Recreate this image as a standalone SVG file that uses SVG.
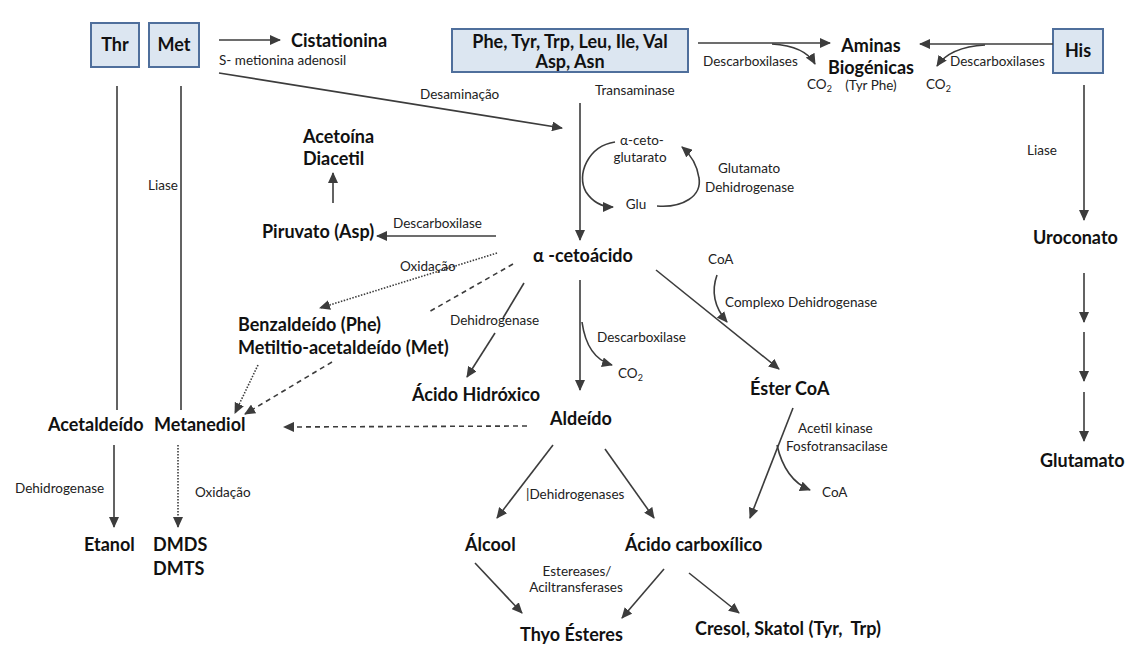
<svg xmlns="http://www.w3.org/2000/svg" width="1128" height="662" viewBox="0 0 1128 662">
  <style>
    .b { font-family: Lato, "Liberation Sans", sans-serif; font-weight: bold; font-size: 18px; fill: #111; }
    .s { font-family: Lato, "Liberation Sans", sans-serif; font-size: 13.5px; fill: #222; }
    .box { fill: #dce6f1; stroke: #4f6f9c; stroke-width: 2; }
    .ln { fill: none; stroke: #3c3c3c; stroke-width: 1.6; }
    .dot { stroke-dasharray: 1.5 1.5; }
    .dash { stroke-dasharray: 5 4; }
  </style>
  <defs>
    <marker id="ah" markerUnits="userSpaceOnUse" markerWidth="12" markerHeight="10" refX="10" refY="5" orient="auto">
      <path d="M0,0 L11,5 L0,10 Z" fill="#3c3c3c"/>
    </marker>
  </defs>
  <rect width="1128" height="662" fill="#ffffff"/>

  <!-- amino acid sources -->
  <g id="thr"><rect class="box" x="91" y="23" width="48" height="44"/><text class="b" x="115" y="51" text-anchor="middle">Thr</text></g>
  <g id="met"><rect class="box" x="149" y="23" width="50" height="44"/><text class="b" x="174" y="51" text-anchor="middle">Met</text></g>
  <g id="aa"><rect class="box" x="452" y="29" width="236" height="43"/>
    <text class="b" x="570" y="48" text-anchor="middle">Phe, Tyr, Trp, Leu, Ile, Val</text>
    <text class="b" x="570" y="68" text-anchor="middle">Asp, Asn</text></g>
  <g id="his"><rect class="box" x="1053" y="29" width="50" height="44"/><text class="b" x="1078" y="57" text-anchor="middle">His</text></g>

  <!-- products -->
  <g id="cistationina"><text class="b" x="291" y="47">Cistationina</text></g>
  <g id="aminas"><text class="b" x="871" y="52" text-anchor="middle">Aminas</text><text class="b" x="871" y="74" text-anchor="middle">Biogénicas</text><text class="s" x="871" y="90" text-anchor="middle">(Tyr Phe)</text></g>
  <g id="acetoina"><text class="b" x="303" y="143">Acetoína</text><text class="b" x="303" y="165">Diacetil</text></g>
  <g id="piruvato"><text class="b" x="262" y="238">Piruvato (Asp)</text></g>
  <g id="cetoacido"><text class="b" x="533" y="262">α -cetoácido</text></g>
  <g id="ciclo"><text class="s" x="642" y="145" text-anchor="middle">α-ceto-</text><text class="s" x="640" y="162" text-anchor="middle">glutarato</text><text class="s" x="636" y="209" text-anchor="middle">Glu</text></g>
  <g id="benzaldeido"><text class="b" x="238" y="331">Benzaldeído (Phe)</text><text class="b" x="238" y="354">Metiltio-acetaldeído (Met)</text></g>
  <g id="hidroxico"><text class="b" x="412" y="401">Ácido Hidróxico</text></g>
  <g id="acetaldeido"><text class="b" x="48" y="431">Acetaldeído</text></g>
  <g id="metanediol"><text class="b" x="154" y="431">Metanediol</text></g>
  <g id="aldeido"><text class="b" x="550" y="425">Aldeído</text></g>
  <g id="estercoa"><text class="b" x="750" y="395">Éster CoA</text></g>
  <g id="etanol"><text class="b" x="84" y="551">Etanol</text></g>
  <g id="dmds"><text class="b" x="153" y="551">DMDS</text><text class="b" x="153" y="575">DMTS</text></g>
  <g id="alcool"><text class="b" x="465" y="551">Álcool</text></g>
  <g id="carboxilico"><text class="b" x="625" y="551">Ácido carboxílico</text></g>
  <g id="thyo"><text class="b" x="520" y="641">Thyo Ésteres</text></g>
  <g id="cresol"><text class="b" x="695" y="635">Cresol, Skatol (Tyr,&#160; Trp)</text></g>
  <g id="uroconato"><text class="b" x="1033" y="244">Uroconato</text></g>
  <g id="glutamato"><text class="b" x="1040" y="467">Glutamato</text></g>

  <!-- connectors -->
  <g id="connectors">
    <line class="ln" x1="219" y1="40" x2="280" y2="40" marker-end="url(#ah)"/>
    <line class="ln" x1="219" y1="73" x2="562" y2="128" marker-end="url(#ah)"/>
    <line class="ln" x1="117" y1="86" x2="117" y2="410"/>
    <line class="ln" x1="181" y1="86" x2="181" y2="410"/>
    <line class="ln" x1="698" y1="43" x2="830" y2="43" marker-end="url(#ah)"/>
    <path class="ln" d="M772,44 Q805,46 815,64" marker-end="url(#ah)"/>
    <line class="ln" x1="1053" y1="44" x2="920" y2="44" marker-end="url(#ah)"/>
    <path class="ln" d="M985,45 Q950,47 937,66" marker-end="url(#ah)"/>
    <line class="ln" x1="1084" y1="85" x2="1084" y2="220" marker-end="url(#ah)"/>
    <line class="ln" x1="1084" y1="273" x2="1084" y2="322" marker-end="url(#ah)"/>
    <line class="ln" x1="1084" y1="332" x2="1084" y2="381" marker-end="url(#ah)"/>
    <line class="ln" x1="1084" y1="392" x2="1084" y2="441" marker-end="url(#ah)"/>
    <line class="ln" x1="580" y1="103" x2="580" y2="240" marker-end="url(#ah)"/>
    <path class="ln" d="M615,142 C588,146 576,175 586,192 C594,204 603,207 613,207" marker-end="url(#ah)"/>
    <path class="ln" d="M657,206 C683,208 702,196 699,178 C697,164 690,154 682,147" marker-end="url(#ah)"/>
    <line class="ln" x1="333" y1="203" x2="333" y2="173" marker-end="url(#ah)"/>
    <line class="ln" x1="496" y1="236" x2="377" y2="236" marker-end="url(#ah)"/>
    <line class="ln dot" x1="497" y1="253" x2="320" y2="308" marker-end="url(#ah)"/>
    <line class="ln dash" x1="513" y1="264" x2="427" y2="313"/>
    <line class="ln" x1="524" y1="283" x2="503" y2="318"/>
    <line class="ln" x1="495" y1="333" x2="467" y2="377" marker-end="url(#ah)"/>
    <line class="ln" x1="580" y1="280" x2="580" y2="390" marker-end="url(#ah)"/>
    <path class="ln" d="M582,322 Q587,358 612,365" marker-end="url(#ah)"/>
    <line class="ln" x1="656" y1="270" x2="779" y2="369" marker-end="url(#ah)"/>
    <path class="ln" d="M717,275 Q708,300 727,322" marker-end="url(#ah)"/>
    <line class="ln dot" x1="258" y1="365" x2="235" y2="413" marker-end="url(#ah)"/>
    <line class="ln dash" x1="332" y1="362" x2="245" y2="414" marker-end="url(#ah)"/>
    <line class="ln dash" x1="527" y1="426" x2="284" y2="427" marker-end="url(#ah)"/>
    <line class="ln" x1="114" y1="445" x2="114" y2="527" marker-end="url(#ah)"/>
    <line class="ln dot" x1="178" y1="445" x2="178" y2="527" marker-end="url(#ah)"/>
    <line class="ln" x1="553" y1="445" x2="497" y2="518" marker-end="url(#ah)"/>
    <line class="ln" x1="605" y1="449" x2="654" y2="518" marker-end="url(#ah)"/>
    <line class="ln" x1="793" y1="408" x2="750" y2="518" marker-end="url(#ah)"/>
    <path class="ln" d="M777,445 Q785,480 810,490" marker-end="url(#ah)"/>
    <line class="ln" x1="475" y1="563" x2="522" y2="613" marker-end="url(#ah)"/>
    <line class="ln" x1="664" y1="569" x2="622" y2="618" marker-end="url(#ah)"/>
    <line class="ln" x1="689" y1="573" x2="739" y2="613" marker-end="url(#ah)"/>
  </g>

  <!-- enzyme and cofactor labels -->
  <g id="labels">
    <text class="s" x="219" y="65">S- metionina adenosil</text>
    <text class="s" x="420" y="99">Desaminação</text>
    <text class="s" x="595" y="95">Transaminase</text>
    <text class="s" x="703" y="66">Descarboxilases</text>
    <text class="s" x="807" y="89">CO<tspan font-size="9" dy="3">2</tspan></text>
    <text class="s" x="950" y="66">Descarboxilases</text>
    <text class="s" x="926" y="89">CO<tspan font-size="9" dy="3">2</tspan></text>
    <text class="s" x="1027" y="155">Liase</text>
    <text class="s" x="148" y="190">Liase</text>
    <text class="s" x="718" y="173">Glutamato</text>
    <text class="s" x="705" y="192">Dehidrogenase</text>
    <text class="s" x="393" y="228">Descarboxilase</text>
    <text class="s" x="400" y="271">Oxidação</text>
    <text class="s" x="708" y="264">CoA</text>
    <text class="s" x="725" y="307">Complexo Dehidrogenase</text>
    <text class="s" x="450" y="325">Dehidrogenase</text>
    <text class="s" x="597" y="342">Descarboxilase</text>
    <text class="s" x="618" y="378">CO<tspan font-size="9" dy="3">2</tspan></text>
    <text class="s" x="798" y="433">Acetil kinase</text>
    <text class="s" x="786" y="451">Fosfotransacilase</text>
    <text class="s" x="822" y="497">CoA</text>
    <text class="s" x="526" y="499">|Dehidrogenases</text>
    <text class="s" x="577" y="576" text-anchor="middle">Estereases/</text>
    <text class="s" x="576" y="592" text-anchor="middle">Aciltransferases</text>
    <text class="s" x="15" y="493">Dehidrogenase</text>
    <text class="s" x="195" y="497">Oxidação</text>
  </g>
</svg>
